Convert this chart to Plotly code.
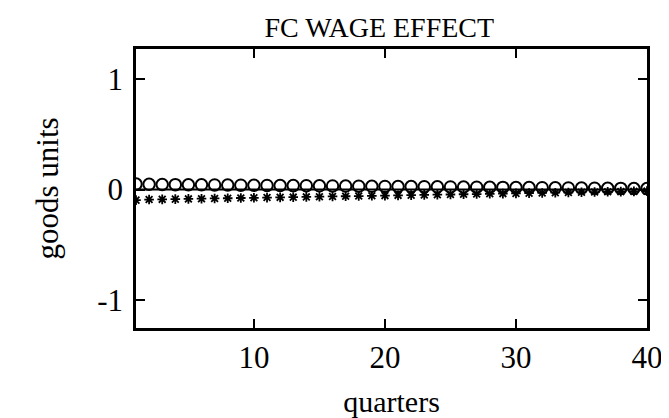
import plotly.graph_objects as go

quarters = list(range(1, 41))
circle_vals = [0.050, 0.048, 0.046, 0.045, 0.044, 0.043, 0.042, 0.041, 0.040, 0.039,
               0.038, 0.037, 0.036, 0.035, 0.034, 0.033, 0.032, 0.031, 0.030, 0.029,
               0.028, 0.027, 0.026, 0.025, 0.024, 0.023, 0.022, 0.021, 0.020, 0.019,
               0.018, 0.017, 0.016, 0.015, 0.014, 0.013, 0.012, 0.011, 0.010, 0.009]
star_vals = [-0.095, -0.090, -0.088, -0.086, -0.084, -0.082, -0.080, -0.078, -0.076, -0.074,
             -0.072, -0.070, -0.068, -0.066, -0.064, -0.062, -0.060, -0.058, -0.056, -0.054,
             -0.052, -0.050, -0.048, -0.046, -0.044, -0.042, -0.040, -0.038, -0.036, -0.034,
             -0.032, -0.030, -0.028, -0.026, -0.024, -0.022, -0.020, -0.018, -0.016, -0.014]
x_ticks = [10, 20, 30, 40]
y_ticks = [-1, 0, 1]
y_tick_labels = ["-1", "0", "1"]

FONT = "Liberation Serif, Times New Roman, serif"

fig = go.Figure()
fig.add_trace(go.Scatter(x=[quarters[0], quarters[-1]], y=[0, 0], mode="lines",
                         line=dict(color="black", width=2), showlegend=False,
                         hoverinfo="skip"))
fig.add_trace(go.Scatter(x=quarters, y=star_vals, mode="markers",
                         marker=dict(symbol="asterisk-open", size=8, color="black",
                                     line=dict(color="black", width=1.8)),
                         showlegend=False))
fig.add_trace(go.Scatter(x=quarters, y=circle_vals, mode="markers",
                         marker=dict(symbol="circle-open", size=11.5, color="black",
                                     line=dict(color="black", width=2)),
                         showlegend=False))

fig.update_layout(
    width=669, height=418,
    margin=dict(l=128, r=30, t=41, b=92),
    paper_bgcolor="white", plot_bgcolor="white",
    font=dict(family=FONT, color="black", size=30),
    title=dict(text="FC WAGE EFFECT", x=0.555, xanchor="center", y=0.955,
               yanchor="middle", font=dict(family=FONT, size=28, color="black")),
    xaxis=dict(range=[1, 40], tickvals=x_ticks, ticks="inside", ticklen=9,
               tickwidth=2, tickcolor="black", showline=True, linewidth=2.5,
               linecolor="black", mirror="ticks", showgrid=False, zeroline=False,
               tickfont=dict(family=FONT, size=31),
               title=dict(text="quarters", font=dict(family=FONT, size=30), standoff=18)),
    yaxis=dict(range=[-1.25, 1.27], tickvals=y_ticks, ticktext=y_tick_labels,
               ticks="inside", ticklen=9,
               tickwidth=2, tickcolor="black", showline=True, linewidth=2.5,
               linecolor="black", mirror="ticks", showgrid=False, zeroline=False,
               tickfont=dict(family=FONT, size=31), ticklabelstandoff=4,
               title=dict(text="goods units", font=dict(family=FONT, size=31), standoff=30)),
)

fig.write_html("out.html")
